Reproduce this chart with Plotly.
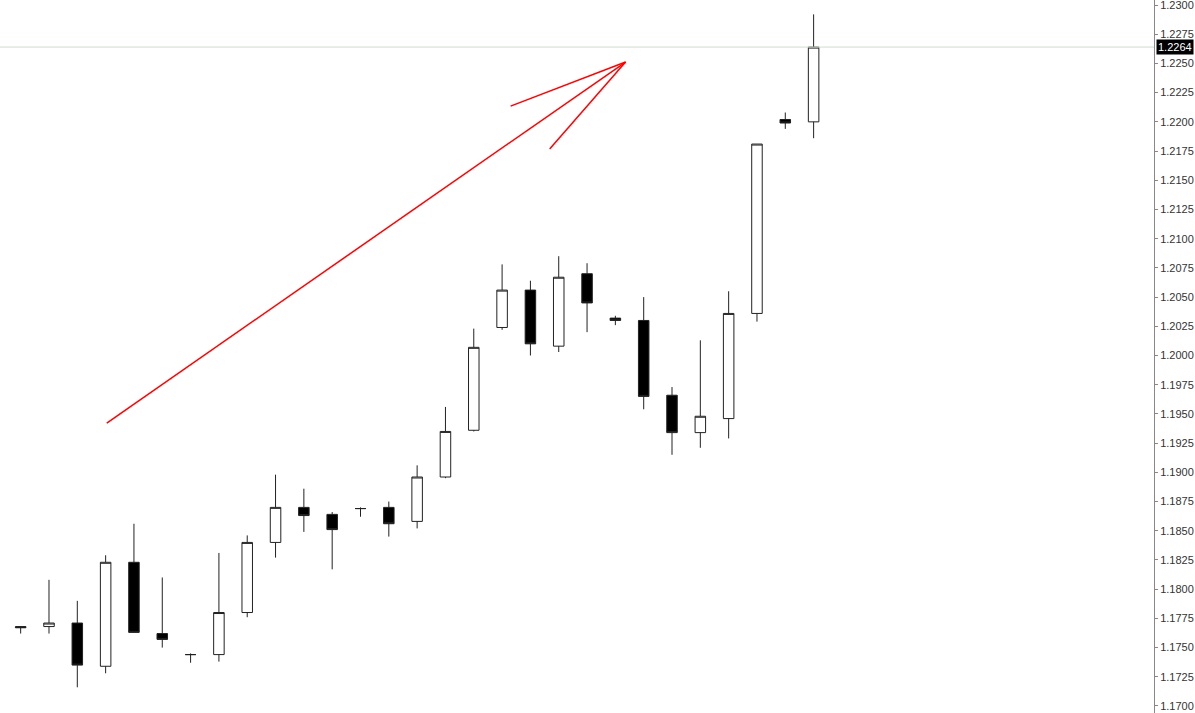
import plotly.graph_objects as go

# Candles (bar index -1 is the partially visible bar at the left edge)
opens  = [1.1763, 1.1768, 1.1768, 1.1771, 1.1734, 1.1823, 1.1762, 1.1744, 1.1744, 1.1780,
          1.1840, 1.1870, 1.1864, 1.1869, 1.1870, 1.1858, 1.1896, 1.1936, 1.2024, 1.2056,
          1.2008, 1.2070, 1.2032, 1.2030, 1.1966, 1.1934, 1.1946, 1.2036, 1.2202, 1.2200]
highs  = [1.1775, 1.1768, 1.1808, 1.1790, 1.1829, 1.1856, 1.1810, 1.1745, 1.1831, 1.1846,
          1.1898, 1.1886, 1.1866, 1.1870, 1.1875, 1.1906, 1.1956, 1.2023, 1.2078, 1.2064,
          1.2085, 1.2079, 1.2034, 1.2050, 1.1973, 1.2013, 1.2055, 1.2181, 1.2208, 1.2292]
lows   = [1.1760, 1.1762, 1.1762, 1.1716, 1.1728, 1.1763, 1.1750, 1.1737, 1.1738, 1.1776,
          1.1827, 1.1849, 1.1817, 1.1862, 1.1845, 1.1852, 1.1895, 1.1935, 1.2022, 1.2000,
          1.2003, 1.2020, 1.2026, 1.1954, 1.1915, 1.1921, 1.1929, 1.2029, 1.2194, 1.2186]
closes = [1.1773, 1.1767, 1.1771, 1.1735, 1.1823, 1.1763, 1.1757, 1.1744, 1.1780, 1.1840,
          1.1870, 1.1863, 1.1851, 1.1869, 1.1856, 1.1896, 1.1935, 1.2007, 1.2056, 1.2010,
          1.2067, 1.2045, 1.2030, 1.1965, 1.1934, 1.1948, 1.2036, 1.2181, 1.2199, 1.2264]
bar_index = list(range(-1, len(opens) - 1))

last_price = 1.2264
last_label = "1.2264"

# Hand-drawn red arrow (bar index, price)
arrow_lines = [
    ([3.04, 21.36], [1.19422, 1.22512]),
    ([17.30, 21.36], [1.22135, 1.22512]),
    ([18.68, 21.36], [1.21767, 1.22512]),
]

y_min, y_max = 1.16940, 1.23043
y_tick_step = 0.0025
x_min, x_max = -0.73, 40.02

fig = go.Figure()

fig.add_trace(go.Candlestick(
    x=bar_index, open=opens, high=highs, low=lows, close=closes,
    increasing=dict(fillcolor="#ffffff", line=dict(color="#222222", width=1)),
    decreasing=dict(fillcolor="#000000", line=dict(color="#222222", width=1)),
    whiskerwidth=0, showlegend=False, hoverinfo="skip",
))

for xs, ys in arrow_lines:
    fig.add_trace(go.Scatter(x=xs, y=ys, mode="lines",
                             line=dict(color="#ff0000", width=1.5),
                             showlegend=False, hoverinfo="skip"))

fig.add_shape(type="line", xref="paper", x0=0, x1=1, yref="y",
              y0=last_price, y1=last_price,
              line=dict(color="#cfdccf", width=1))

fig.add_annotation(xref="paper", x=1.0, xanchor="left", xshift=2,
                   yref="y", y=last_price, yanchor="middle",
                   text=last_label, showarrow=False,
                   font=dict(family="Liberation Sans", size=11, color="#ffffff"),
                   bgcolor="#000000", borderpad=1)

fig.update_layout(
    width=1195, height=713,
    margin=dict(l=0, r=41, t=0, b=0),
    paper_bgcolor="#ffffff", plot_bgcolor="#ffffff",
    boxgap=0.47,
    xaxis=dict(range=[x_min, x_max], showgrid=False, zeroline=False,
               showticklabels=False, ticks="", rangeslider=dict(visible=False),
               showline=False, fixedrange=True),
    yaxis=dict(range=[y_min, y_max], side="right", dtick=y_tick_step, tick0=1.17,
               tickformat=".4f", showgrid=False, zeroline=False,
               showline=True, linecolor="#888888", linewidth=1,
               ticks="outside", ticklen=3, tickcolor="#888888",
               ticklabeloverflow="allow",
               tickfont=dict(family="Liberation Sans", size=11, color="#333333"),
               fixedrange=True),
)

fig.write_html("out.html", config=dict(displayModeBar=False),
               post_script="document.body.style.margin='0';document.body.style.overflow='hidden';")
